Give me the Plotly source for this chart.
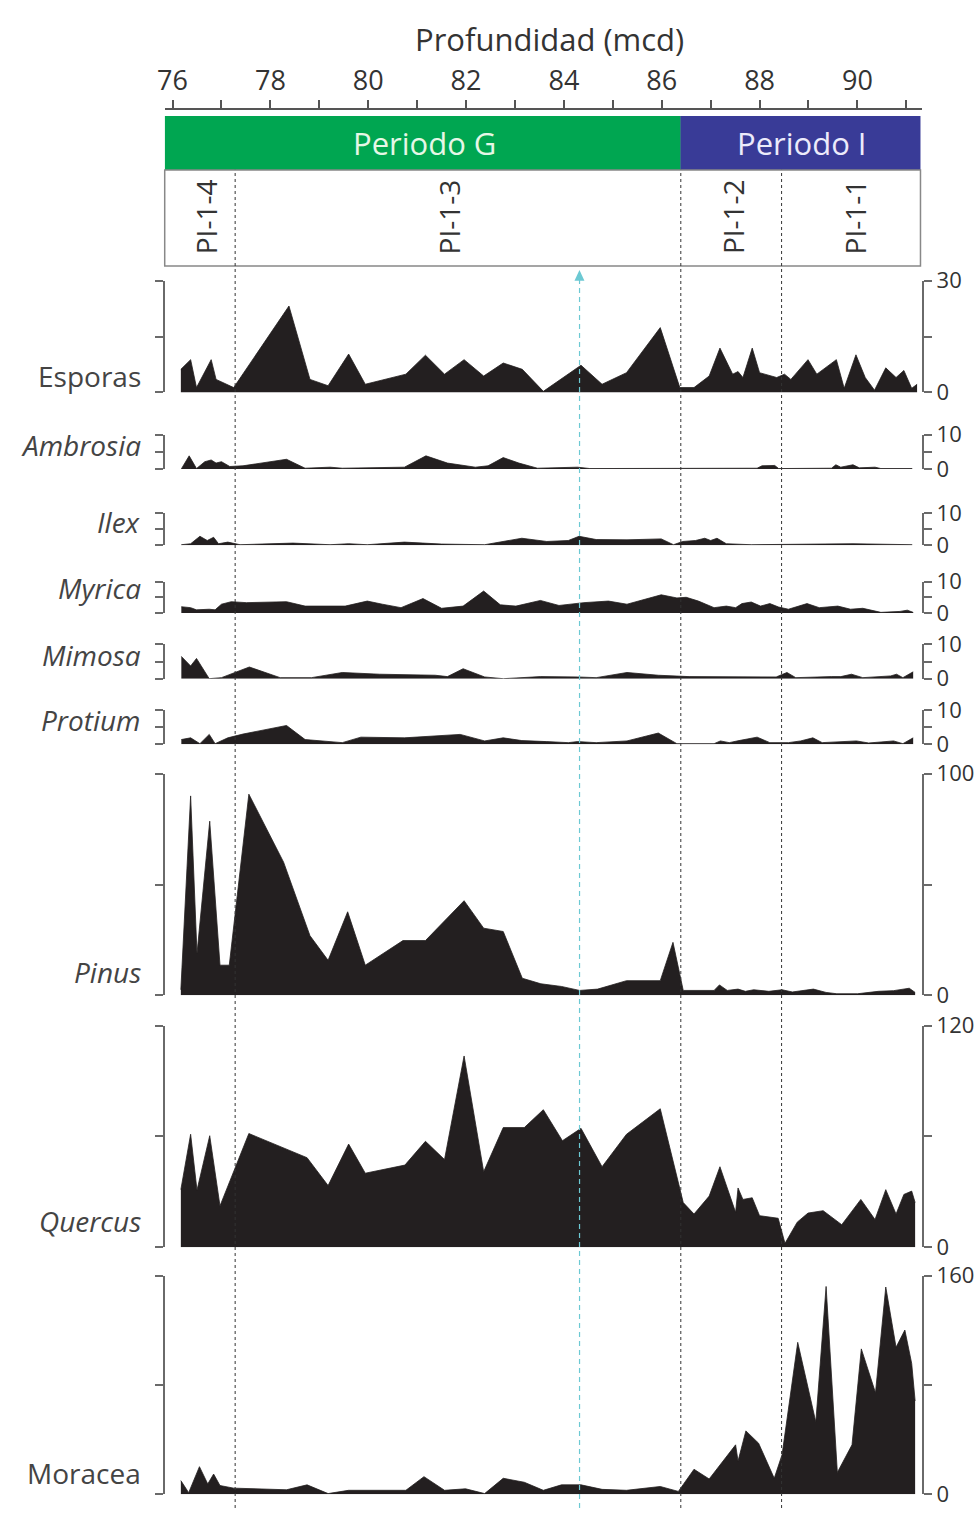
import plotly.graph_objects as go

# ---------------- data ----------------
depth_ticks = list(range(76, 92))
zone_bounds = [77.28, 86.39, 88.45]
cyan_depth = 84.32
period_names = ["Periodo G", "Periodo I"]
period_label_depth = [81.15, 88.86]
zone_names = ["PI-1-4", "PI-1-3", "PI-1-2", "PI-1-1"]
zone_label_depth = [76.69, 81.66, 87.46, 89.94]

esporas_d = [76.17, 76.37, 76.49, 76.79, 76.89, 77.25, 78.38, 78.81, 79.18, 79.60, 79.94, 80.77, 81.17, 81.56, 81.96,
             82.36, 82.76, 83.15, 83.58, 84.35, 84.78, 85.28, 85.97, 86.37, 86.66, 86.97, 87.19, 87.45, 87.56, 87.66,
             87.85, 88.00, 88.35, 88.51, 88.64, 88.99, 89.17, 89.57, 89.73, 89.97, 90.16, 90.35, 90.58, 90.79, 90.95,
             91.11, 91.22]
esporas_v = [6.2, 8.8, 1.3, 8.8, 3.5, 1.3, 23.2, 3.5, 1.8, 10.3, 2.2, 4.9, 10.0, 4.9, 8.8,
             4.4, 7.9, 6.2, 0.3, 7.3, 2.2, 5.3, 17.4, 1.3, 1.3, 4.4, 11.9, 4.9, 5.6, 4.0,
             11.9, 5.3, 4.0, 4.9, 3.5, 8.8, 4.9, 8.8, 1.1, 10.1, 4.0, 0.6, 6.6, 4.0, 5.9,
             1.1, 2.2]

ambrosia_d = [76.18, 76.34, 76.49, 76.66, 76.79, 76.89, 77.00, 77.17, 77.44, 78.33, 78.71, 79.22, 79.47, 80.74,
              81.18, 81.62, 82.19, 82.45, 82.76, 83.08, 83.46, 84.28, 84.53, 86.37, 86.56, 87.95, 88.05, 88.31,
              88.39, 89.47, 89.56, 89.66, 89.91, 90.04, 90.36, 90.48, 91.12]
ambrosia_v = [0.0, 3.8, 0.1, 2.1, 2.6, 1.7, 2.1, 0.7, 0.9, 2.8, 0.2, 0.5, 0.2, 0.5,
              3.8, 1.7, 0.5, 0.9, 3.3, 1.7, 0.2, 0.5, 0.1, 0.2, 0.1, 0.2, 0.9, 1.0,
              0.1, 0.2, 1.2, 0.5, 1.2, 0.3, 0.5, 0.1, 0.1]

ilex_d = [76.18, 76.37, 76.56, 76.71, 76.84, 76.94, 77.13, 77.38, 78.46, 79.22, 79.60, 79.98, 80.74, 81.50, 82.38,
          83.14, 83.65, 84.09, 84.31, 84.66, 85.29, 85.99, 86.24, 86.43, 86.69, 86.88, 87.00, 87.13, 87.32, 87.83,
          89.91, 91.12]
ilex_v = [0.2, 0.5, 2.8, 1.5, 2.5, 0.5, 1.0, 0.2, 0.7, 0.2, 0.5, 0.2, 1.0, 0.4, 0.2,
          2.2, 1.2, 1.5, 2.8, 1.8, 1.7, 2.0, 0.2, 1.2, 1.5, 2.2, 1.5, 2.2, 0.5, 0.2,
          0.5, 0.2]

myrica_d = [76.18, 76.37, 76.49, 76.75, 76.87, 77.00, 77.20, 77.51, 78.33, 78.71, 79.53, 79.98, 80.29, 80.67, 81.12,
            81.50, 81.94, 82.36, 82.70, 83.02, 83.52, 83.90, 84.41, 84.91, 85.29, 85.99, 86.31, 86.50, 86.75, 87.07,
            87.32, 87.51, 87.64, 87.83, 88.02, 88.21, 88.39, 88.59, 88.97, 89.22, 89.60, 89.86, 90.11, 90.48, 90.87,
            91.02, 91.14]
myrica_v = [2.0, 1.7, 1.0, 1.2, 1.0, 2.8, 3.6, 3.3, 3.6, 2.2, 2.2, 3.8, 2.8, 1.7, 4.6,
            1.5, 2.2, 7.0, 2.6, 2.2, 4.0, 2.4, 3.3, 3.8, 2.8, 5.8, 4.8, 5.0, 3.8, 1.7,
            2.2, 1.7, 3.0, 3.5, 2.2, 3.0, 1.9, 1.2, 3.0, 1.7, 2.2, 1.2, 1.5, 0.2, 0.5,
            0.9, 0.2]

mimosa_d = [76.18, 76.37, 76.49, 76.75, 77.00, 77.25, 77.57, 78.20, 78.84, 79.47, 80.23, 81.37, 81.62, 81.94, 82.38,
            82.76, 83.52, 84.28, 84.66, 85.29, 85.93, 86.56, 87.76, 88.34, 88.56, 88.74, 89.47, 89.66, 89.88, 90.11,
            90.68, 90.80, 90.93, 91.14]
mimosa_v = [6.5, 3.7, 5.9, 0.0, 0.3, 1.6, 3.4, 0.3, 0.3, 1.8, 1.3, 1.0, 0.6, 2.9, 0.5,
            0.0, 0.6, 0.5, 0.3, 1.8, 1.0, 0.6, 0.5, 0.5, 1.8, 0.3, 0.6, 0.6, 1.3, 0.3,
            0.8, 1.3, 0.3, 2.0]

protium_d = [76.18, 76.37, 76.56, 76.75, 76.87, 77.13, 77.44, 78.33, 78.71, 79.47, 79.85, 80.74, 81.88, 82.38, 82.76,
             83.14, 83.65, 84.09, 84.28, 84.66, 85.29, 85.93, 86.31, 87.07, 87.20, 87.38, 87.58, 87.95, 88.21, 88.59,
             88.84, 89.09, 89.28, 89.60, 89.98, 90.23, 90.74, 90.93, 91.14]
protium_v = [1.4, 1.9, 0.2, 2.9, 0.2, 1.9, 3.0, 5.5, 1.4, 0.5, 2.1, 1.9, 2.9, 1.0, 1.9,
             1.1, 0.8, 0.5, 0.8, 0.5, 1.0, 3.3, 0.2, 0.2, 1.0, 0.5, 1.1, 2.1, 0.5, 0.5,
             1.0, 1.9, 0.5, 0.8, 1.0, 0.4, 1.0, 0.2, 1.9]

pinus_d = [76.17, 76.37, 76.50, 76.76, 76.97, 77.16, 77.56, 78.27, 78.81, 79.18, 79.58, 79.94, 80.71, 81.17, 81.96,
           82.36, 82.76, 83.15, 83.53, 83.95, 84.32, 84.69, 85.28, 85.97, 86.23, 86.44, 87.07, 87.18, 87.34, 87.56,
           87.71, 87.88, 88.19, 88.46, 88.67, 89.10, 89.36, 89.58, 90.00, 90.43, 90.74, 91.06, 91.18]
pinus_v = [2.5, 90.0, 18.8, 78.6, 13.6, 13.6, 90.8, 60.1, 26.9, 15.8, 37.7, 13.6, 24.7, 24.7, 42.7,
           30.3, 28.8, 7.7, 5.2, 4.0, 2.2, 2.8, 6.6, 6.6, 23.9, 2.2, 2.2, 4.7, 2.2, 2.8,
           1.8, 2.5, 1.8, 2.5, 1.5, 2.8, 1.3, 0.7, 0.7, 1.8, 2.1, 3.2, 1.3]

quercus_d = [76.17, 76.37, 76.50, 76.76, 76.97, 77.56, 78.75, 79.18, 79.60, 79.94, 80.75, 81.17, 81.56, 81.96, 82.36,
             82.76, 83.19, 83.58, 83.97, 84.35, 84.78, 85.28, 85.97, 86.44, 86.66, 86.97, 87.19, 87.51, 87.56, 87.66,
             87.85, 88.00, 88.38, 88.52, 88.77, 88.99, 89.30, 89.68, 90.07, 90.36, 90.58, 90.79, 90.95, 91.11, 91.18]
quercus_v = [31.2, 61.2, 30.9, 60.4, 22.4, 61.6, 48.5, 33.4, 55.9, 40.1, 44.5, 57.4, 47.5, 103.6, 40.9,
             64.8, 64.8, 74.5, 57.7, 64.4, 43.6, 61.2, 75.0, 24.2, 18.0, 27.7, 43.6, 18.9, 32.1, 25.9,
             26.8, 17.1, 15.7, 2.1, 13.6, 18.5, 19.8, 12.2, 25.9, 15.0, 31.2, 18.0, 28.6, 30.4, 24.2]

moracea_d = [76.17, 76.33, 76.55, 76.72, 76.84, 76.97, 77.25, 78.33, 78.75, 79.18, 79.60, 80.77, 81.14, 81.56, 81.99,
             82.38, 82.76, 83.19, 83.58, 83.95, 84.35, 84.78, 85.28, 85.97, 86.34, 86.66, 86.97, 87.51, 87.56, 87.72,
             87.98, 88.30, 88.46, 88.78, 89.15, 89.36, 89.59, 89.89, 90.08, 90.37, 90.58, 90.79, 90.97, 91.11, 91.18]
moracea_v = [10.0, 1.2, 20.2, 7.6, 14.8, 6.4, 4.5, 3.3, 6.9, 0.5, 2.9, 2.9, 12.9, 2.9, 4.0,
             0.5, 11.7, 8.8, 2.9, 6.9, 6.9, 3.6, 2.9, 5.7, 2.1, 18.3, 11.2, 36.2, 24.3, 46.4,
             37.4, 11.7, 29.0, 111.2, 52.9, 152.1, 16.0, 36.2, 106.4, 74.3, 151.7, 107.6, 120.2, 95.7, 68.3]

taxa = ["Esporas", "Ambrosia", "Ilex", "Myrica", "Mimosa", "Protium", "Pinus", "Quercus", "Moracea"]
taxa_italic = [False, True, True, True, True, True, True, True, False]
taxa_max = [30, 10, 10, 10, 10, 10, 100, 120, 160]
taxa_depths = [esporas_d, ambrosia_d, ilex_d, myrica_d, mimosa_d, protium_d, pinus_d, quercus_d, moracea_d]
taxa_values = [esporas_v, ambrosia_v, ilex_v, myrica_v, mimosa_v, protium_v, pinus_v, quercus_v, moracea_v]

# ---------------- layout geometry (pixels) ----------------
W, H = 979, 1522
panel_px = [(270, 384), (427, 462), (507, 540), (577, 609), (641, 676), (708, 743), (773, 999), (1030, 1256), (1285, 1508)]
label_px_y = [367, 438, 516, 584, 652, 718, 975, 1229, 1486]
X_RANGE = [75.84, 91.33]
FONT = "Open Sans"
FILL = "#231f20"
AXC = "#6a6a6a"


def fx(p):
    return p / W


def fy(p):
    return 1 - p / H


fig = go.Figure()
layout = dict(
    width=W, height=H, margin=dict(l=0, r=0, t=0, b=0),
    paper_bgcolor="white", plot_bgcolor="rgba(0,0,0,0)", showlegend=False,
    font=dict(family=FONT, color="#333"),
)

layout["xaxis"] = dict(
    domain=[fx(158), fx(922)], range=X_RANGE, anchor="free", position=fy(95), side="top",
    showline=True, linecolor="#555", linewidth=1.5, ticks="outside", ticklen=8, tickwidth=1.5,
    tickcolor="#555", tickvals=depth_ticks,
    ticktext=[str(v) if v % 2 == 0 else "" for v in depth_ticks],
    tickfont=dict(size=27, color="#333", family=FONT), showgrid=False, zeroline=False,
)

annotations = []
for i, name in enumerate(taxa):
    yname = "y" if i == 0 else f"y{i+1}"
    lname = "yaxis" if i == 0 else f"yaxis{i+1}"
    top, bot = panel_px[i]
    m = taxa_max[i]
    fig.add_trace(go.Scatter(
        x=taxa_depths[i], y=taxa_values[i], xaxis="x", yaxis=yname, mode="lines",
        fill="tozeroy", fillcolor=FILL, line=dict(color=FILL, width=0.8), hoverinfo="skip",
    ))
    layout[lname] = dict(
        domain=[fy(bot), fy(top)], range=[0, m], anchor="x", side="right",
        showline=True, linecolor=AXC, linewidth=1.5, mirror="ticks",
        ticks="outside", ticklen=8, tickwidth=1.5, tickcolor=AXC,
        tickvals=[0, m / 2, m], ticktext=["0", "", str(m)],
        tickfont=dict(size=22, color="#333", family=FONT),
        showgrid=False, zeroline=False,
    )
    txt = f"<i>{name}</i>" if taxa_italic[i] else name
    annotations.append(dict(
        text=txt, xref="paper", yref="paper", x=fx(136), y=fy(label_px_y[i]),
        xanchor="right", yanchor="middle", showarrow=False,
        font=dict(size=28, color="#444", family=FONT),
    ))

# title
annotations.append(dict(text="Profundidad (mcd)", xref="paper", yref="paper", x=fx(546), y=fy(23),
                        xanchor="center", yanchor="middle", showarrow=False,
                        font=dict(size=31, color="#333", family=FONT)))

# header band
shapes = []
hdr_top, hdr_mid, hdr_bot = 102, 157, 255
shapes.append(dict(type="rect", xref="x", yref="paper", x0=X_RANGE[0], x1=zone_bounds[1],
                   y0=fy(hdr_mid), y1=fy(hdr_top), fillcolor="#00a651", line=dict(width=0), layer="below"))
shapes.append(dict(type="rect", xref="paper", yref="paper", x0=fx(678), x1=fx(920),
                   y0=fy(hdr_mid), y1=fy(hdr_top), fillcolor="#393b97", line=dict(width=0), layer="below"))
shapes.append(dict(type="rect", xref="paper", yref="paper", x0=fx(158), x1=fx(920),
                   y0=fy(hdr_bot), y1=fy(hdr_mid), fillcolor="rgba(0,0,0,0)",
                   line=dict(color="#888", width=1.5)))

period_colors = ["#e6f7e6", "#ecebfb"]
for name, d, c in zip(period_names, period_label_depth, period_colors):
    annotations.append(dict(text=name, xref="x", yref="paper", x=d, y=fy(130),
                            xanchor="center", yanchor="middle", showarrow=False,
                            font=dict(size=31, color=c, family=FONT)))

for name, d in zip(zone_names, zone_label_depth):
    annotations.append(dict(text=name, xref="x", yref="paper", x=d, y=fy(205),
                            xanchor="center", yanchor="middle", showarrow=False, textangle=-90,
                            font=dict(size=28, color="#333", family=FONT)))

# zone boundary dashed lines
for d in zone_bounds:
    shapes.append(dict(type="line", xref="x", yref="paper", x0=d, x1=d, y0=0, y1=fy(hdr_mid),
                       line=dict(color="#333", width=1, dash="3px,3px")))

# cyan dashed line with arrow head
shapes.append(dict(type="line", xref="x", yref="paper", x0=cyan_depth, x1=cyan_depth, y0=0, y1=fy(268),
                   line=dict(color="#6cc9d3", width=1.2, dash="5px,4px")))
cx = 166 + (cyan_depth - 76) * 49.3
shapes.append(dict(type="path", xref="paper", yref="paper",
                   path=f"M {fx(cx-5)},{fy(270)} L {fx(cx+5)},{fy(270)} L {fx(cx)},{fy(259)} Z",
                   fillcolor="#6cc9d3", line=dict(width=0)))

layout["shapes"] = shapes
layout["annotations"] = annotations
fig.update_layout(**layout)
fig.write_html("out.html", post_script="document.body.style.margin='0';document.body.style.padding='0';")
